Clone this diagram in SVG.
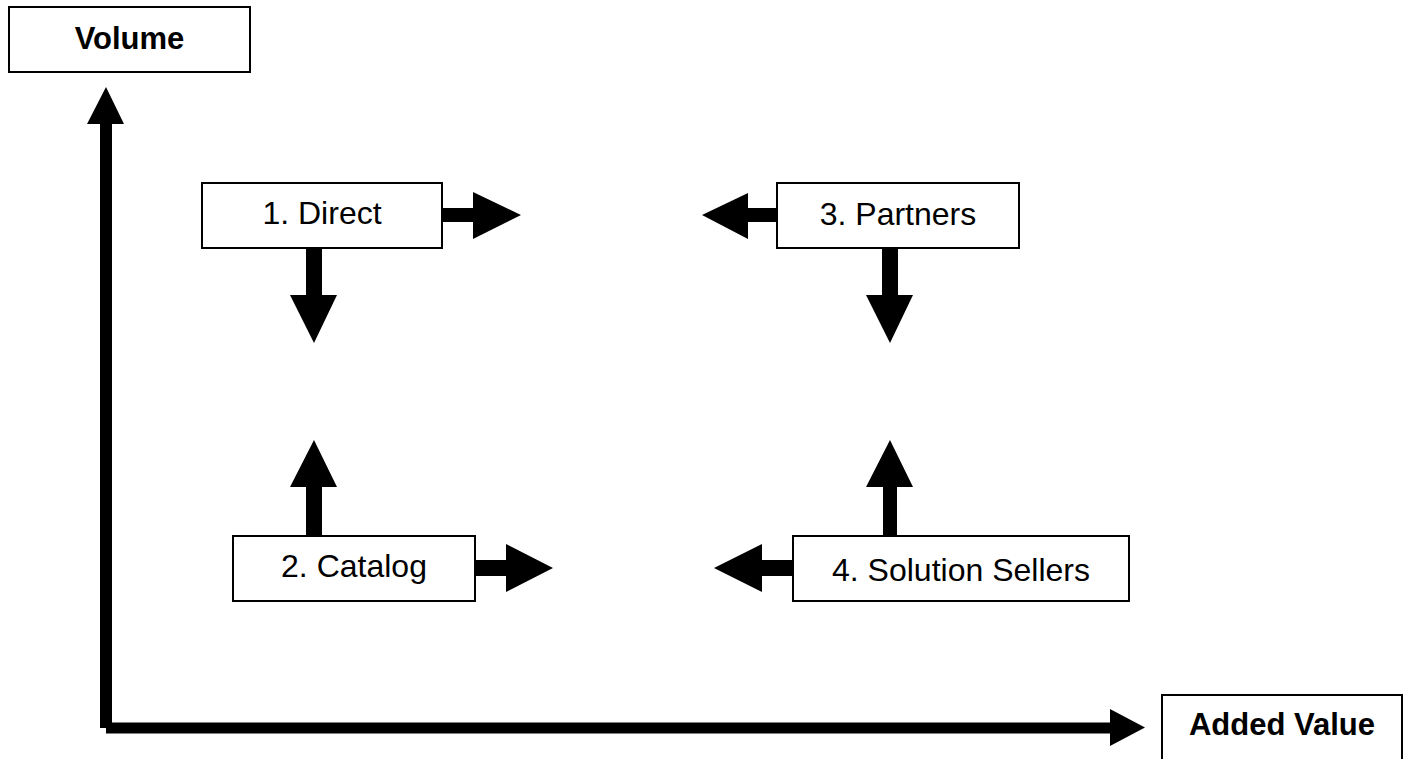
<svg xmlns="http://www.w3.org/2000/svg" width="1408" height="759" viewBox="0 0 1408 759">
<style>
.box{fill:#fff;stroke:#000;stroke-width:2}
.lbl{font-family:"Liberation Sans",Arial,sans-serif;font-size:32px;fill:#000;text-anchor:middle}
.axl{font-family:"Liberation Sans",Arial,sans-serif;font-size:31px;font-weight:bold;fill:#000;text-anchor:middle}
.arr{fill:#000;stroke:none}
</style>
<rect width="1408" height="759" fill="#fff"/>
<g id="connectors">
  <path class="arr" d="M100,728 V124 H87 L106,87 L124,124 H112 V728 Z"/>
  <path class="arr" d="M106,722.5 H1110 V709 L1145,727.5 L1110,746 V733.5 H106 Z"/>
  <path class="arr" d="M442,208 H473 V192 L521,215 L473,239 V222 H442 Z"/>
  <path class="arr" d="M306,248 V295 H290 L314,343 L337,295 H322 V248 Z"/>
  <path class="arr" d="M777,208 H748 V193 L702,215 L748,239 V222 H777 Z"/>
  <path class="arr" d="M882,248 V295 H866 L890,343 L913,295 H898 V248 Z"/>
  <path class="arr" d="M306,536 V487 H290 L314,440 L337,487 H322 V536 Z"/>
  <path class="arr" d="M475,560 H506 V544 L553,568 L506,592 V576 H475 Z"/>
  <path class="arr" d="M883,536 V487 H866 L890,440 L913,487 H897 V536 Z"/>
  <path class="arr" d="M793,560 H762 V544 L714,568 L762,592 V576 H793 Z"/>
</g>
<g id="volume">
  <rect class="box" x="9" y="7" width="241" height="65"/>
  <text class="axl" x="129.5" y="49">Volume</text>
</g>
<g id="added-value">
  <rect class="box" x="1162" y="695" width="240" height="70"/>
  <text class="axl" x="1282" y="735">Added Value</text>
</g>
<g id="direct">
  <rect class="box" x="202" y="183" width="240" height="65"/>
  <text class="lbl" x="322" y="224">1. Direct</text>
</g>
<g id="partners">
  <rect class="box" x="777" y="183" width="242" height="65"/>
  <text class="lbl" x="898" y="225">3. Partners</text>
</g>
<g id="catalog">
  <rect class="box" x="233" y="536" width="242" height="65"/>
  <text class="lbl" x="354" y="577">2. Catalog</text>
</g>
<g id="solution-sellers">
  <rect class="box" x="793" y="536" width="336" height="65"/>
  <text class="lbl" x="961" y="581">4. Solution Sellers</text>
</g>
</svg>
